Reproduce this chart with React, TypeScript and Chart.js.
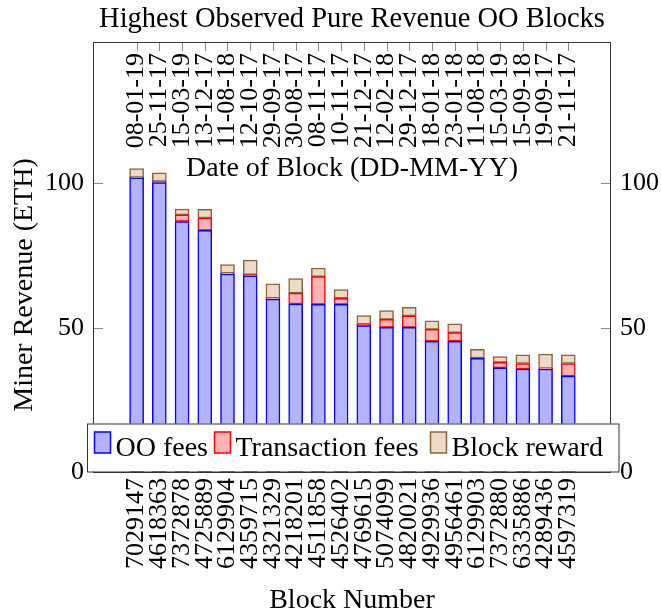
import React, { useEffect, useRef } from 'react';
import { Chart, registerables } from 'chart.js';

Chart.register(...registerables);

const blockNumbers = ['7029147', '4618363', '7372878', '4725889', '6129904', '4359715', '4321329', '4218201', '4511858', '4526402', '4769615', '5074099', '4820021', '4929936', '4956461', '6129903', '7372880', '6335886', '4289436', '4597319'];
const blockDates = ['08-01-19', '25-11-17', '15-03-19', '13-12-17', '11-08-18', '12-10-17', '29-09-17', '30-08-17', '08-11-17', '10-11-17', '21-12-17', '12-02-18', '29-12-17', '18-01-18', '23-01-18', '11-08-18', '15-03-19', '15-09-18', '19-09-17', '21-11-17'];
const ooFees = [101.9, 100.3, 86.8, 83.7, 68.6, 67.95, 59.9, 58.2, 58.1, 58.1, 50.7, 50.1, 50.1, 45.3, 45.3, 39.4, 36.1, 35.7, 35.7, 33.2];
const transactionFees = [0.2, 0.4, 2.3, 4.3, 0.3, 0.45, 0.3, 3.8, 9.6, 2.1, 0.5, 2.8, 4.0, 4.1, 3.0, 0.1, 1.9, 1.9, 0.2, 4.4];
const blockRewards = [3, 3, 2, 3, 3, 5, 5, 5, 3, 3, 3, 3, 3, 3, 3, 3, 2, 3, 5, 3];
const yTickValues = [0, 50, 100];
const seriesNames = ['OO fees', 'Transaction fees', 'Block reward'];

const chartTitle = 'Highest Observed Pure Revenue OO Blocks';
const topAxisTitle = 'Date of Block (DD-MM-YY)';
const xAxisTitle = 'Block Number';
const yAxisTitle = 'Miner Revenue (ETH)';

const FONT = "'Liberation Serif', 'Times New Roman', serif";
const seriesColors = [
  { fill: 'rgb(179,179,255)', stroke: 'rgb(0,0,255)' },
  { fill: 'rgb(255,179,179)', stroke: 'rgb(255,0,0)' },
  { fill: 'rgb(236,217,198)', stroke: 'rgb(140,100,60)' },
];

const overlayPlugin = {
  id: 'overlay',
  afterDraw(chart: any) {
    const { ctx, chartArea: a, scales } = chart;
    const xs = scales.x;
    const ys = scales.y;
    const line = (x1: number, y1: number, x2: number, y2: number) => {
      ctx.beginPath();
      ctx.moveTo(x1, y1);
      ctx.lineTo(x2, y2);
      ctx.stroke();
    };
    ctx.save();
    // inner tick marks
    ctx.strokeStyle = '#8a8a8a';
    ctx.lineWidth = 1;
    yTickValues.forEach((v) => {
      const py = Math.round(ys.getPixelForValue(v)) + 0.5;
      line(a.left, py, a.left + 10, py);
      line(a.right, py, a.right - 10, py);
    });
    blockDates.forEach((_, i) => {
      const px = Math.round(xs.getPixelForValue(i)) + 0.5;
      line(px, a.top, px, a.top + 9);
    });
    // frame
    ctx.strokeStyle = '#333';
    ctx.lineWidth = 1;
    ctx.strokeRect(a.left + 0.5, a.top + 0.5, a.right - a.left - 1, a.bottom - a.top);

    // top date labels (inside plot)
    ctx.fillStyle = '#000';
    ctx.font = `26px ${FONT}`;
    blockDates.forEach((d, i) => {
      ctx.save();
      ctx.translate(xs.getPixelForValue(i), a.top + 11);
      ctx.rotate(-Math.PI / 2);
      ctx.textAlign = 'right';
      ctx.textBaseline = 'middle';
      ctx.fillText(d, 0, 0);
      ctx.restore();
    });

    const cx = (a.left + a.right) / 2;
    ctx.textAlign = 'center';
    ctx.textBaseline = 'alphabetic';
    ctx.font = `28.5px ${FONT}`;
    ctx.fillText(chartTitle, cx, 27);
    ctx.font = `28px ${FONT}`;
    ctx.fillText(topAxisTitle, cx, 176);
    ctx.fillText(xAxisTitle, cx, 608);
    ctx.save();
    ctx.translate(32, 285);
    ctx.rotate(-Math.PI / 2);
    ctx.fillText(yAxisTitle, 0, 0);
    ctx.restore();

    // legend
    const lx = 87, ly = 423.5, lw = 531.5, lh = 48;
    ctx.fillStyle = '#fff';
    ctx.fillRect(lx, ly, lw, lh);
    ctx.strokeStyle = '#333';
    ctx.strokeRect(lx + 0.5, ly + 0.5, lw, lh);
    const swX = [94.5, 214.5, 430.5];
    ctx.textAlign = 'left';
    ctx.lineWidth = 1.5;
    seriesNames.forEach((name, i) => {
      ctx.fillStyle = seriesColors[i].fill;
      ctx.strokeStyle = seriesColors[i].stroke;
      ctx.fillRect(swX[i], 432, 16, 21);
      ctx.strokeRect(swX[i], 432, 16, 21);
      ctx.fillStyle = '#000';
      ctx.fillText(name, swX[i] + 21, 456);
    });
    ctx.restore();
  },
};

export default function App() {
  const ref = useRef<HTMLCanvasElement | null>(null);
  useEffect(() => {
    if (!ref.current) return;
    const series = [ooFees, transactionFees, blockRewards];
    const tickFont = { family: FONT, size: 26 };
    const chart = new Chart(ref.current, {
      type: 'bar',
      data: {
        datasets: series.map((vals, si) => ({
          label: seriesNames[si],
          data: vals.map((v, i) => ({ x: i, y: v })),
          backgroundColor: seriesColors[si].fill,
          borderColor: seriesColors[si].stroke,
          borderWidth: 1.5,
          borderSkipped: false,
          barThickness: 14,
          yAxisID: 'y',
        })),
      },
      options: {
        responsive: false,
        animation: false,
        devicePixelRatio: 1,
        layout: { padding: { top: 42, left: 0, right: 0, bottom: 0 } },
        plugins: { legend: { display: false }, title: { display: false }, tooltip: { enabled: false } },
        scales: {
          x: {
            type: 'linear',
            stacked: true,
            offset: false,
            min: -1.92,
            max: 20.88,
            grid: { display: false, drawTicks: false, offset: false },
            border: { display: false },
            afterBuildTicks: (s: any) => {
              s.ticks = blockNumbers.map((_, i) => ({ value: i }));
            },
            afterFit: (s: any) => {
              s.height = 142;
            },
            ticks: {
              autoSkip: false,
              maxRotation: 90,
              minRotation: 90,
              padding: 6,
              color: '#000',
              font: tickFont,
              callback: (v: any) => blockNumbers[v] ?? '',
            },
          },
          y: {
            position: 'left',
            stacked: true,
            min: 0,
            max: 149,
            grid: { display: false, drawTicks: false },
            border: { display: false },
            afterBuildTicks: (s: any) => {
              s.ticks = yTickValues.map((v) => ({ value: v }));
            },
            afterFit: (s: any) => {
              s.width = 93;
            },
            ticks: { padding: 9, color: '#000', font: tickFont },
          },
          y2: {
            position: 'right',
            min: 0,
            max: 149,
            grid: { display: false, drawTicks: false },
            border: { display: false },
            afterBuildTicks: (s: any) => {
              s.ticks = yTickValues.map((v) => ({ value: v }));
            },
            afterFit: (s: any) => {
              s.width = 50;
            },
            ticks: { padding: 9, color: '#000', font: tickFont },
          },
        },
      } as any,
      plugins: [overlayPlugin],
    });
    return () => chart.destroy();
  }, []);
  return (
    <div style={{ position: 'fixed', left: 0, top: 0, width: 661, height: 614, background: '#fff' }}>
      <canvas ref={ref} width={661} height={614} style={{ display: 'block' }} />
    </div>
  );
}
